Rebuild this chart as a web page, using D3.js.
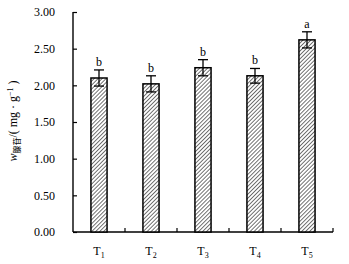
<!DOCTYPE html>
<html>
<head>
<meta charset="utf-8">
<script src="https://cdn.jsdelivr.net/npm/d3@7"></script>
<style>
  body { margin: 0; background: #fff; }
  text { font-family: "Liberation Serif", "DejaVu Serif", serif; }
</style>
</head>
<body>
<div id="chart"></div>
<script>
// data
const categories = ["T1", "T2", "T3", "T4", "T5"];
const values = [2.10, 2.02, 2.24, 2.13, 2.62];
const errors = [0.11, 0.11, 0.11, 0.10, 0.11];
const letters = ["b", "b", "b", "b", "a"];
const yTicks = [0, 0.5, 1, 1.5, 2, 2.5, 3];

const margin = { top: 12, right: 16, bottom: 32, left: 73 };
const width = 349 - margin.left - margin.right;
const height = 264 - margin.top - margin.bottom;

const svg = d3.select("#chart")
  .append("svg")
  .attr("width", 349)
  .attr("height", 264);

// hatch pattern
const pattern = svg.append("defs")
  .append("pattern")
  .attr("id", "hatch")
  .attr("patternUnits", "userSpaceOnUse")
  .attr("width", 2.8)
  .attr("height", 2.8)
  .attr("patternTransform", "rotate(45)");
pattern.append("rect").attr("width", 2.8).attr("height", 2.8).attr("fill", "#fff");
pattern.append("line")
  .attr("x1", 0).attr("y1", 0).attr("x2", 0).attr("y2", 2.8)
  .attr("stroke", "#000").attr("stroke-width", 1.1);

const g = svg.append("g")
  .attr("transform", `translate(${margin.left},${margin.top})`);

const x = d3.scaleBand()
  .domain(categories)
  .range([0, width])
  .paddingInner(0.69)
  .paddingOuter(0.345);

const y = d3.scaleLinear()
  .domain([0, 3])
  .range([height, 0]);

// y axis
const yAxis = g.append("g")
  .call(d3.axisLeft(y)
    .tickValues(yTicks)
    .tickSize(-4)
    .tickPadding(18)
    .tickFormat(d3.format(".2f")));
yAxis.select(".domain").attr("d", `M0,${height}V0`).attr("stroke-width", 1.4);
yAxis.selectAll(".tick line").attr("stroke-width", 1.2);
yAxis.selectAll(".tick text").style("font-size", "12px").attr("fill", "#000");

// x axis
const xAxis = g.append("g")
  .attr("transform", `translate(0,${height})`)
  .call(d3.axisBottom(x).tickSize(0).tickPadding(12)
    .tickFormat(""));
xAxis.select(".domain").attr("d", `M0,0H${width}`).attr("stroke-width", 1.4);

// ticks between categories
const step = x.step();
const boundaries = d3.range(1, categories.length + 1).map(i => i * step);
g.selectAll(".xtick")
  .data(boundaries)
  .join("line")
  .attr("x1", d => d).attr("x2", d => d)
  .attr("y1", height).attr("y2", height - 4)
  .attr("stroke", "#000").attr("stroke-width", 1.2);

// category labels with subscripts
const labels = g.selectAll(".xlabel")
  .data(categories)
  .join("text")
  .attr("x", d => x(d) + x.bandwidth() / 2)
  .attr("y", height + 23)
  .attr("text-anchor", "middle")
  .style("font-size", "12px");
labels.append("tspan").text(d => d[0]);
labels.append("tspan")
  .attr("dy", 3)
  .style("font-size", "8px")
  .text(d => d.slice(1));

// bars
g.selectAll(".bar")
  .data(values)
  .join("rect")
  .attr("x", (d, i) => x(categories[i]))
  .attr("y", d => y(d))
  .attr("width", x.bandwidth())
  .attr("height", d => height - y(d))
  .attr("fill", "url(#hatch)")
  .attr("stroke", "#000")
  .attr("stroke-width", 1.5);

// error bars
const eb = g.selectAll(".err")
  .data(values)
  .join("g")
  .attr("stroke", "#000")
  .attr("stroke-width", 1.3);
eb.append("line")
  .attr("x1", (d, i) => x(categories[i]) + x.bandwidth() / 2)
  .attr("x2", (d, i) => x(categories[i]) + x.bandwidth() / 2)
  .attr("y1", (d, i) => y(d + errors[i]))
  .attr("y2", (d, i) => y(d - errors[i]));
[1, -1].forEach(s => {
  eb.append("line")
    .attr("x1", (d, i) => x(categories[i]) + x.bandwidth() / 2 - 5)
    .attr("x2", (d, i) => x(categories[i]) + x.bandwidth() / 2 + 5)
    .attr("y1", (d, i) => y(d + s * errors[i]))
    .attr("y2", (d, i) => y(d + s * errors[i]));
});

// significance letters
g.selectAll(".letter")
  .data(values)
  .join("text")
  .attr("x", (d, i) => x(categories[i]) + x.bandwidth() / 2)
  .attr("y", (d, i) => y(d + errors[i]) - 4)
  .attr("text-anchor", "middle")
  .style("font-size", "12px")
  .text((d, i) => letters[i]);

// y label
const yl = svg.append("text")
  .attr("transform", "translate(17,121) rotate(-90)")
  .attr("text-anchor", "middle")
  .style("font-size", "12px");
yl.append("tspan").style("font-style", "italic").text("w");
yl.append("tspan").attr("dy", 3).style("font-size", "8px")
  .style("font-family", "Noto Sans CJK SC").text("腺苷");
yl.append("tspan").attr("dy", -3).text("/( mg · g");
yl.append("tspan").attr("dy", -4).style("font-size", "8px").text("−1");
yl.append("tspan").attr("dy", 4).text(" )");
</script>
</body>
</html>
